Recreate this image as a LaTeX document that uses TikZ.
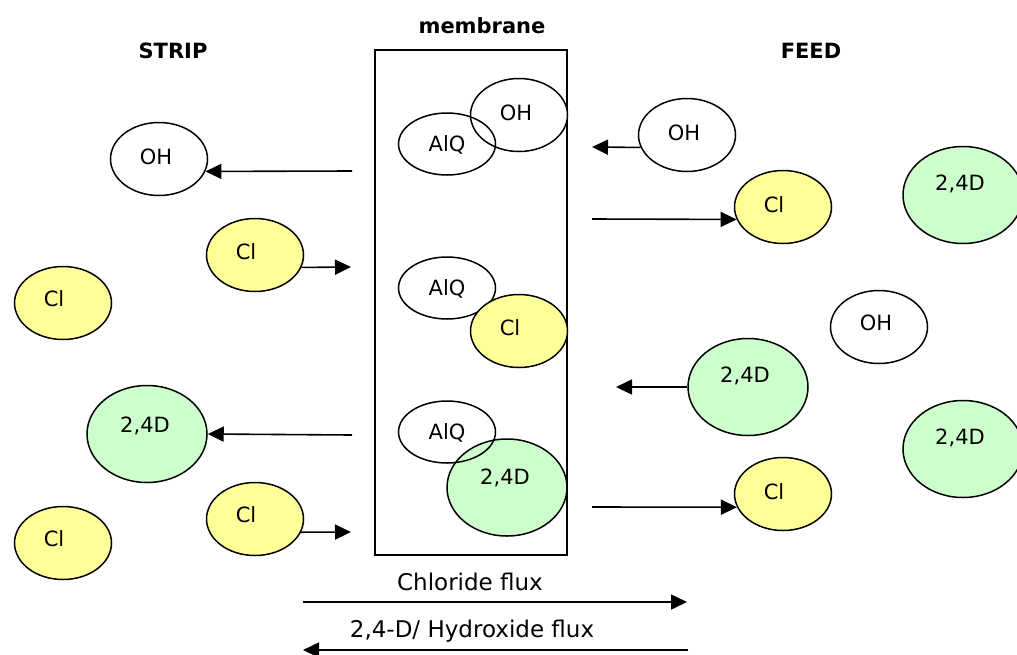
\documentclass[tikz,border=0pt]{standalone}
\usepackage{fontspec}
\setmainfont{DejaVu Sans}
\usetikzlibrary{shapes.geometric,arrows.meta}
\definecolor{clfill}{HTML}{FFFF99}
\definecolor{dfill}{HTML}{CCFFCC}
\begin{document}
\begin{tikzpicture}[x=1pt,y=-1pt,
 ion/.style={ellipse,draw,line width=1.5pt,inner sep=0pt,minimum width=97pt,minimum height=73pt},
 big/.style={ion,minimum width=120pt,minimum height=97pt,fill=dfill},
 clion/.style={ion,fill=clfill},
 ohion/.style={ion,fill=white},
 aiq/.style={ion,minimum height=62pt},
 lab/.style={font=\fontsize{21}{21}\selectfont,inner sep=0pt,text height=15.3pt,text depth=0pt},
 title/.style={font=\bfseries\fontsize{21}{21}\selectfont,inner sep=0pt,anchor=base},
 flux/.style={font=\fontsize{23}{23}\selectfont,inner sep=0pt,anchor=base},
 arr/.style={line width=1.6pt,-{Triangle[length=16pt,width=15pt]}}]
\fill[white] (0,0) rectangle (1017,654);
\useasboundingbox (0,0) rectangle (1017,654);

% titles
\node[title] (tStrip) at (173,58.5) {STRIP};
\node[title] (tMem) at (482,33) {membrane};
\node[title] (tFeed) at (811,58.5) {FEED};

% strip side
\node[ohion,label={[lab,xshift=-3pt,yshift=2pt]center:OH}] (sOH) at (159,159) {};
\node[clion,label={[lab,xshift=-9pt,yshift=3pt]center:Cl}] (sCl1) at (255,255) {};
\node[clion,label={[lab,xshift=-9pt,yshift=4pt]center:Cl}] (sCl2) at (63,303) {};
\node[big,label={[lab,xshift=-2pt,yshift=9pt]center:2,4D}] (s24D) at (147,434) {};
\node[clion,label={[lab,xshift=-9pt,yshift=4pt]center:Cl}] (sCl3) at (255,519) {};
\node[clion,label={[lab,xshift=-9pt,yshift=4pt]center:Cl}] (sCl4) at (63,543) {};

% membrane
\node[draw,line width=1.5pt,minimum width=192pt,minimum height=505pt,inner sep=0pt] (mem) at (471,302.5) {};
\node[ohion,label={[lab,xshift=-3pt,yshift=2pt]center:OH}] (mOH) at (519,115) {};
\node[aiq,label={[lab]center:AlQ}] (mA1) at (447,144) {};
\node[aiq,label={[lab]center:AlQ}] (mA2) at (447,288) {};
\node[clion,label={[lab,xshift=-9pt,yshift=3pt]center:Cl}] (mCl) at (519,331) {};
\node[big,label={[lab,xshift=-2pt,yshift=11pt]center:2,4D}] (m24D) at (507,487.5) {};
\node[aiq,label={[lab]center:AlQ}] (mA3) at (447,432) {};

% feed side
\node[ohion,label={[lab,xshift=-3pt,yshift=2pt]center:OH}] (fOH) at (687,135) {};
\node[clion,label={[lab,xshift=-9pt,yshift=2pt]center:Cl}] (fCl1) at (783,207) {};
\node[big,label={[lab,xshift=-3pt,yshift=12pt]center:2,4D}] (f24D1) at (963,195) {};
\node[ohion,label={[lab,xshift=-3pt,yshift=4pt]center:OH}] (fOH2) at (879,327) {};
\node[big,label={[lab,xshift=-3pt,yshift=12pt]center:2,4D}] (f24D2) at (748,387) {};
\node[big,label={[lab,xshift=-3pt,yshift=12pt]center:2,4D}] (f24D3) at (963,449) {};
\node[clion,label={[lab,xshift=-9pt,yshift=2pt]center:Cl}] (fCl2) at (783,494) {};

% arrow free ends
\coordinate (a1) at (352,171);
\coordinate (a2) at (351,267);
\coordinate (a3) at (352,435);
\coordinate (a4) at (351,532);
\coordinate (a5) at (592,147);
\coordinate (a6) at (592,219);
\coordinate (a7) at (616,387);
\coordinate (a8) at (592,507);

\draw[arr] (a1) -- (sOH.-15);
\draw[arr] (sCl1.-15) -- (a2);
\draw[arr] (a3) -- (s24D.east);
\draw[arr] (sCl3.-16) -- (a4);
\draw[arr] (fOH.195) -- (a5);
\draw[arr] (a6) -- (fCl1.195);
\draw[arr] (f24D2.west) -- (a7);
\draw[arr] (a8) -- (fCl2.196);

% flux arrows
\coordinate (cf1) at (303,602);
\coordinate (cf2) at (687,602);
\coordinate (hf1) at (688,650);
\coordinate (hf2) at (303,650);
\draw[arr] (cf1) -- (cf2);
\draw[arr] (hf1) -- (hf2);
\node[flux] (tCl) at (470,590) {Chloride flux};
\node[flux] (tHy) at (472,637) {2,4-D/ Hydroxide flux};
\end{tikzpicture}
\end{document}
